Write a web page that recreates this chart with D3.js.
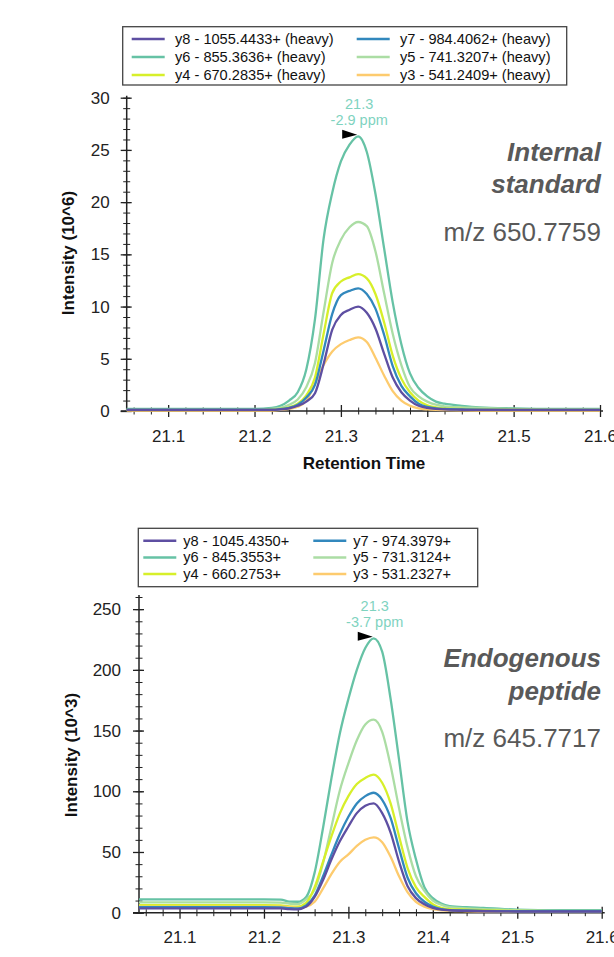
<!DOCTYPE html>
<html>
<head>
<meta charset="utf-8">
<script src="https://cdn.jsdelivr.net/npm/d3@7"></script>
<style>
  body { margin: 0; background: #fff; }
  svg { display: block; font-family: Arial, "Liberation Sans", sans-serif; }
</style>
</head>
<body>
<div id="container"></div>
<script>
// retention times shared by both traces (minutes)
const retentionTimes = [21.052, 21.10, 21.15, 21.20,
  21.22, 21.23, 21.24, 21.25, 21.26, 21.27, 21.28, 21.29, 21.30, 21.31, 21.32,
  21.33, 21.34, 21.35, 21.36, 21.37, 21.38, 21.39, 21.40, 21.41, 21.42,
  21.44, 21.46, 21.50, 21.55, 21.60];

// transitions (legend order)
const heavyLabels = ['y8 - 1055.4433+ (heavy)', 'y7 - 984.4062+ (heavy)', 'y6 - 855.3636+ (heavy)',
  'y5 - 741.3207+ (heavy)', 'y4 - 670.2835+ (heavy)', 'y3 - 541.2409+ (heavy)'];
const lightLabels = ['y8 - 1045.4350+', 'y7 - 974.3979+', 'y6 - 845.3553+',
  'y5 - 731.3124+', 'y4 - 660.2753+', 'y3 - 531.2327+'];
const ionColors = ['#5e4fa2', '#3288bd', '#66c2a5', '#abdda4', '#d7ef2a', '#fdcb6e'];

// internal standard intensities (10^6)
const heavyY8 = [0.1,0.1,0.1,0.1, 0.1,0.15,0.25,0.5,0.9,1.7,4.5,7.8,9.2,9.7,10.0,9.4,7.9,5.5,3.2,1.8,1.0,0.5,0.3,0.2,0.15, 0.12,0.1,0.1,0.1,0.1];
const heavyY7 = [0.12,0.12,0.12,0.12, 0.12,0.18,0.3,0.6,1.3,2.5,5.8,9.3,11.1,11.5,11.75,11.2,9.8,7.3,4.3,2.4,1.4,0.7,0.4,0.25,0.2, 0.15,0.12,0.1,0.1,0.1];
const heavyY6 = [0.2,0.2,0.2,0.2, 0.3,0.5,1.0,1.8,4.0,8.8,16.5,20.9,23.9,25.5,26.3,24.8,20.8,15.6,10.4,6.4,3.6,2.2,1.4,0.9,0.7, 0.5,0.35,0.25,0.2,0.2];
const heavyY5 = [0.15,0.15,0.15,0.15, 0.2,0.3,0.6,1.1,2.3,4.6,9.5,14.2,16.4,17.6,18.1,17.7,15.3,11.3,7.4,4.4,2.3,1.4,0.9,0.6,0.45, 0.35,0.3,0.2,0.15,0.15];
const heavyY4 = [0.1,0.1,0.1,0.1, 0.15,0.2,0.35,0.7,1.5,3.2,7.4,11.3,12.4,12.8,13.1,12.7,11.2,8.5,5.3,3.1,1.8,1.0,0.55,0.35,0.25, 0.2,0.15,0.12,0.1,0.1];
const heavyY3 = [0.05,0.05,0.05,0.05, 0.05,0.1,0.2,0.4,1.0,2.6,4.4,5.7,6.4,6.8,7.05,6.6,5.1,3.4,1.9,1.0,0.5,0.25,0.15,0.1,0.08, 0.06,0.05,0.05,0.05,0.05];

// endogenous peptide intensities (10^3)
const lightY8 = [3.6,3.6,3.6,3.6, 3.5,3.0,2.8,5,13,27,44,59,71,82,88,90,82,66,42,22,12,7,4,2.5,2, 1.5,1.2,1,1,1];
const lightY7 = [4.5,4.5,4.5,4.5, 4.3,3.8,3.5,6,14,30,48,65,79,90,96,98.8,93,78,53,29,16,9,5,3,2.2, 1.8,1.5,1.2,1.2,1.2];
const lightY6 = [11,11,11,11, 10.8,9.2,9.0,13,33,70,111,148,176,200,218,226,215,176,126,75,44,21,12,7.5,5.5, 4.5,4,2.5,2,2];
const lightY5 = [8.5,8.5,8.5,8.5, 8.3,7.5,7.0,11,19,41,71,101,123,142,155,159,149,121,86,54,30,18,10,6.5,4.5, 3.5,3,2,1.5,1.5];
const lightY4 = [6.3,6.3,6.3,6.3, 6.0,5.2,5.0,8,21,42,63,82,96,106,111,113.7,107,90,63,37,21,13,7,4,3, 2.5,2,1.5,1.2,1.2];
const lightY3 = [5,5,5,5, 5,4.5,4,5,9,20,32,42,48,55,60,62,58,46,30,17,9,5,3,2,1.5, 1.2,1,1,1,1];

// axis ticks
const xMajorTicks = [21.1, 21.2, 21.3, 21.4, 21.5, 21.6];
const heavyYTicks = [0, 5, 10, 15, 20, 25, 30];
const lightYTicks = [0, 50, 100, 150, 200, 250];

// peak annotations
const heavyPeakText = ['21.3', '-2.9 ppm'];
const lightPeakText = ['21.3', '-3.7 ppm'];
const heavySideText = ['Internal', 'standard', 'm/z 650.7759'];
const lightSideText = ['Endogenous', 'peptide', 'm/z 645.7717'];


const svg = d3.select('#container')
  .append('svg')
  .attr('width', 614)
  .attr('height', 957);

/*==================================================
    PANEL DRAWER
===================================================*/
const drawPanel = cfg => {
  const g = svg.append('g');

  const x = d3.scaleLinear()
    .domain([21.052, 21.6])
    .range([cfg.left, cfg.right]);

  const y = d3.scaleLinear()
    .domain([0, cfg.yMax])
    .range([cfg.bottom, cfg.top]);

  // x axis: minor then major ticks, crossing the line
  const xMinor = d3.range(21.06, 21.601, 0.02).filter(v => Math.abs(v * 10 - Math.round(v * 10)) > 0.01);
  g.append('g')
    .attr('transform', `translate(0, ${cfg.bottom})`)
    .call(d3.axisBottom(x).tickValues(xMinor).tickFormat(''))
    .call(a => a.select('.domain').remove())
    .call(a => a.selectAll('.tick line').attr('y1', -3.5).attr('y2', 3.5).attr('stroke', '#222'));

  g.append('g')
    .attr('transform', `translate(0, ${cfg.bottom})`)
    .call(d3.axisBottom(x).tickValues(xMajorTicks).tickFormat(d3.format('.1f')))
    .call(a => a.select('.domain').remove())
    .call(a => a.selectAll('.tick line').attr('y1', -6).attr('y2', 6).attr('stroke', '#222').attr('stroke-width', 1.3))
    .call(a => a.selectAll('text').attr('y', 18.5).attr('font-size', 17).attr('fill', '#222')
      .attr('font-family', 'Arial, "Liberation Sans", sans-serif'));

  g.append('line')
    .attr('x1', cfg.left - 6).attr('x2', cfg.right + 3)
    .attr('y1', cfg.bottom).attr('y2', cfg.bottom)
    .attr('stroke', '#222').attr('stroke-width', 1.5);

  // y axis
  g.append('g')
    .attr('transform', `translate(${cfg.left}, 0)`)
    .call(d3.axisLeft(y).tickValues(d3.range(0, cfg.yMax + 0.001, cfg.yMinor)).tickFormat(''))
    .call(a => a.select('.domain').remove())
    .call(a => a.selectAll('.tick line').attr('x1', -3.5).attr('x2', 3.5).attr('stroke', '#222'));

  g.append('g')
    .attr('transform', `translate(${cfg.left}, 0)`)
    .call(d3.axisLeft(y).tickValues(cfg.yTicks))
    .call(a => a.select('.domain').remove())
    .call(a => a.selectAll('.tick line').attr('x1', -6).attr('x2', 5).attr('stroke', '#222').attr('stroke-width', 1.3))
    .call(a => a.selectAll('text').attr('x', -cfg.labelGap).attr('font-size', 17).attr('fill', '#222')
      .attr('font-family', 'Arial, "Liberation Sans", sans-serif'));

  g.append('line')
    .attr('x1', cfg.left).attr('x2', cfg.left)
    .attr('y1', y(cfg.yMax) - 2).attr('y2', cfg.bottom)
    .attr('stroke', '#222').attr('stroke-width', 1.5);

  // y title
  g.append('text')
    .attr('transform', `translate(${cfg.yTitleX}, ${cfg.yTitleY}) rotate(-90)`)
    .attr('text-anchor', 'middle')
    .attr('dominant-baseline', 'central')
    .attr('font-size', 17)
    .attr('font-weight', 'bold')
    .attr('fill', '#111')
    .text(cfg.yTitle);

  // traces
  const line = d3.line()
    .x((d, i) => x(retentionTimes[i]))
    .y(d => y(d))
    .curve(d3.curveMonotoneX);

  const drawOrder = [2, 3, 4, 5, 1, 0];
  drawOrder.forEach(k => {
    g.append('path')
      .datum(cfg.series[k])
      .attr('d', line)
      .attr('fill', 'none')
      .attr('stroke', ionColors[k])
      .attr('stroke-width', 2.3)
      .attr('stroke-linejoin', 'round');
  });

  // peak marker on the tallest trace
  const top = cfg.series[2];
  const pi = d3.maxIndex(top);
  const px = x(retentionTimes[pi]);
  const py = y(top[pi]);

  g.append('path')
    .attr('d', `M${px - 16},${py - 6.5} L${px - 16},${py + 2.5} L${px - 1},${py - 1.5} Z`)
    .attr('fill', '#000');

  g.selectAll('.peak-label')
    .data(cfg.peakText)
    .enter()
    .append('text')
    .attr('x', px + 1)
    .attr('y', (d, i) => py - 27 + i * 16)
    .attr('text-anchor', 'middle')
    .attr('font-size', 14.5)
    .attr('fill', '#7fd3bf')
    .text(d => d);

  // side text
  g.selectAll('.side')
    .data(cfg.sideText)
    .enter()
    .append('text')
    .attr('x', 601)
    .attr('y', (d, i) => cfg.sideY[i])
    .attr('text-anchor', 'end')
    .attr('font-size', 26)
    .attr('font-weight', (d, i) => i < 2 ? 'bold' : 'normal')
    .attr('font-style', (d, i) => i < 2 ? 'italic' : 'normal')
    .attr('fill', '#595959')
    .text(d => d);

  // legend
  const lg = cfg.legend;
  g.append('rect')
    .attr('x', lg.x).attr('y', lg.y)
    .attr('width', lg.w).attr('height', lg.h)
    .attr('fill', '#fff')
    .attr('stroke', '#444')
    .attr('stroke-width', 1.3);

  const items = g.selectAll('.legend-item')
    .data(cfg.labels)
    .enter()
    .append('g')
    .attr('transform', (d, i) =>
      `translate(${lg.x + lg.colX[i % 2]}, ${lg.y + lg.row0 + Math.floor(i / 2) * lg.rowH})`);

  items.append('line')
    .attr('x1', 0).attr('x2', 33)
    .attr('stroke', (d, i) => ionColors[i])
    .attr('stroke-width', 2.5);

  items.append('text')
    .attr('x', lg.textDx)
    .attr('y', 5)
    .attr('font-size', 14.6)
    .attr('fill', '#111')
    .text(d => d);
};


drawPanel({
  left: 126.7, right: 600, top: 97.7, bottom: 411,
  yMax: 30, yMinor: 1, yTicks: heavyYTicks, labelGap: 17,
  yTitle: 'Intensity (10^6)', yTitleX: 68.5, yTitleY: 253,
  series: [heavyY8, heavyY7, heavyY6, heavyY5, heavyY4, heavyY3],
  labels: heavyLabels,
  peakText: heavyPeakText,
  sideText: heavySideText, sideY: [161, 193, 241],
  legend: { x: 122.7, y: 26.7, w: 444, h: 58.3, colX: [9, 234], row0: 12.3, rowH: 18, textDx: 43.3 }
});

drawPanel({
  left: 139, right: 601.7, top: 597, bottom: 912.7,
  yMax: 260, yMinor: 10, yTicks: lightYTicks, labelGap: 18,
  yTitle: 'Intensity (10^3)', yTitleX: 71.7, yTitleY: 755,
  series: [lightY8, lightY7, lightY6, lightY5, lightY4, lightY3],
  labels: lightLabels,
  peakText: lightPeakText,
  sideText: lightSideText, sideY: [667, 700, 747],
  legend: { x: 138.3, y: 528.3, w: 339.4, h: 58.4, colX: [5, 175], row0: 12.4, rowH: 16.7, textDx: 40 }
});

// x title (upper panel only)
svg.append('text')
  .attr('x', 364)
  .attr('y', 469)
  .attr('text-anchor', 'middle')
  .attr('font-size', 17)
  .attr('font-weight', 'bold')
  .attr('fill', '#111')
  .text('Retention Time');
</script>
</body>
</html>
